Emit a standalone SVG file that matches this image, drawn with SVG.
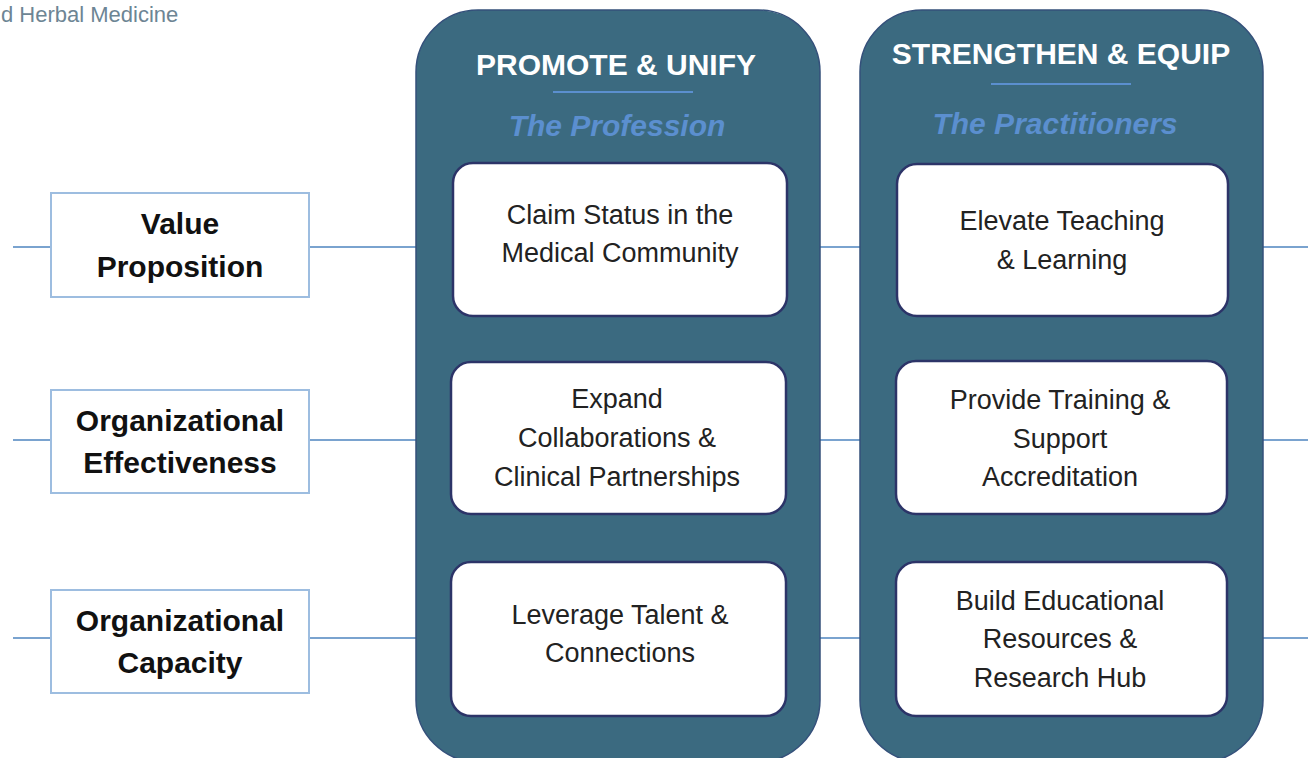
<svg xmlns="http://www.w3.org/2000/svg" width="1308" height="758" viewBox="0 0 1308 758">
<style>
.conn{stroke:#7aa3cf;stroke-width:2;fill:none}
.lbox{fill:#fff;stroke:#9dbde0;stroke-width:2}
.ltxt{font-family:"Liberation Sans",Arial,sans-serif;font-weight:bold;font-size:30px;fill:#111;text-anchor:middle}
.panel{fill:#3b6a80;stroke:#34507a;stroke-width:1.5}
.ptitle{font-family:"Liberation Sans",Arial,sans-serif;font-weight:bold;font-size:30px;fill:#fff;text-anchor:middle}
.psub{font-family:"Liberation Sans",Arial,sans-serif;font-weight:bold;font-style:italic;font-size:30px;fill:#5b8fcf;text-anchor:middle}
.sep{stroke:#5b8fcf;stroke-width:2}
.ibox{fill:#fff;stroke:#2c3468;stroke-width:2.5}
.itxt{font-family:"Liberation Sans",Arial,sans-serif;font-size:27px;fill:#222;text-anchor:middle}
.hdr{font-family:"Liberation Sans",Arial,sans-serif;font-size:22px;fill:#6d8594}
</style>
<rect width="1308" height="758" fill="#fff"/>
<text class="hdr" x="1" y="22">d Herbal Medicine</text>
<g id="connectors">
<line class="conn" x1="13" y1="247" x2="51" y2="247"/>
<line class="conn" x1="309" y1="247" x2="417" y2="247"/>
<line class="conn" x1="819" y1="247" x2="861" y2="247"/>
<line class="conn" x1="1262" y1="247" x2="1308" y2="247"/>
<line class="conn" x1="13" y1="440" x2="51" y2="440"/>
<line class="conn" x1="309" y1="440" x2="417" y2="440"/>
<line class="conn" x1="819" y1="440" x2="861" y2="440"/>
<line class="conn" x1="1262" y1="440" x2="1308" y2="440"/>
<line class="conn" x1="13" y1="638" x2="51" y2="638"/>
<line class="conn" x1="309" y1="638" x2="417" y2="638"/>
<line class="conn" x1="819" y1="638" x2="861" y2="638"/>
<line class="conn" x1="1262" y1="638" x2="1308" y2="638"/>
</g>
<g id="value-proposition">
<rect class="lbox" x="51" y="193" width="258" height="104"/>
<text class="ltxt" x="180" y="234">Value</text>
<text class="ltxt" x="180" y="277">Proposition</text>
</g>
<g id="org-effectiveness">
<rect class="lbox" x="51" y="390" width="258" height="103"/>
<text class="ltxt" x="180" y="431">Organizational</text>
<text class="ltxt" x="180" y="473">Effectiveness</text>
</g>
<g id="org-capacity">
<rect class="lbox" x="51" y="590" width="258" height="103"/>
<text class="ltxt" x="180" y="631">Organizational</text>
<text class="ltxt" x="180" y="673">Capacity</text>
</g>
<g id="promote-unify">
<rect class="panel" x="416" y="10" width="404" height="752" rx="62" ry="62"/>
<text class="ptitle" x="616" y="75">PROMOTE &amp; UNIFY</text>
<line class="sep" x1="553" y1="92" x2="693" y2="92"/>
<text class="psub" x="617" y="136">The Profession</text>
</g>
<g id="strengthen-equip">
<rect class="panel" x="860" y="10" width="403" height="752" rx="62" ry="62"/>
<text class="ptitle" x="1061" y="64">STRENGTHEN &amp; EQUIP</text>
<line class="sep" x1="991" y1="84" x2="1131" y2="84"/>
<text class="psub" x="1055" y="134">The Practitioners</text>
</g>
<g id="claim-status">
<rect class="ibox" x="453" y="163" width="334" height="153" rx="20" ry="20"/>
<text class="itxt" x="620" y="224">Claim Status in the</text>
<text class="itxt" x="620" y="262">Medical Community</text>
</g>
<g id="expand-collaborations">
<rect class="ibox" x="451" y="362" width="335" height="152" rx="20" ry="20"/>
<text class="itxt" x="617" y="408">Expand</text>
<text class="itxt" x="617" y="447">Collaborations &amp;</text>
<text class="itxt" x="617" y="486">Clinical Partnerships</text>
</g>
<g id="leverage-talent">
<rect class="ibox" x="451" y="562" width="335" height="154" rx="20" ry="20"/>
<text class="itxt" x="620" y="624">Leverage Talent &amp;</text>
<text class="itxt" x="620" y="662">Connections</text>
</g>
<g id="elevate-teaching">
<rect class="ibox" x="897" y="164" width="331" height="152" rx="20" ry="20"/>
<text class="itxt" x="1062" y="230">Elevate Teaching</text>
<text class="itxt" x="1062" y="269">&amp; Learning</text>
</g>
<g id="provide-training">
<rect class="ibox" x="896" y="361" width="331" height="153" rx="20" ry="20"/>
<text class="itxt" x="1060" y="409">Provide Training &amp;</text>
<text class="itxt" x="1060" y="448">Support</text>
<text class="itxt" x="1060" y="486">Accreditation</text>
</g>
<g id="build-resources">
<rect class="ibox" x="896" y="562" width="331" height="154" rx="20" ry="20"/>
<text class="itxt" x="1060" y="610">Build Educational</text>
<text class="itxt" x="1060" y="648">Resources &amp;</text>
<text class="itxt" x="1060" y="687">Research Hub</text>
</g>
</svg>
